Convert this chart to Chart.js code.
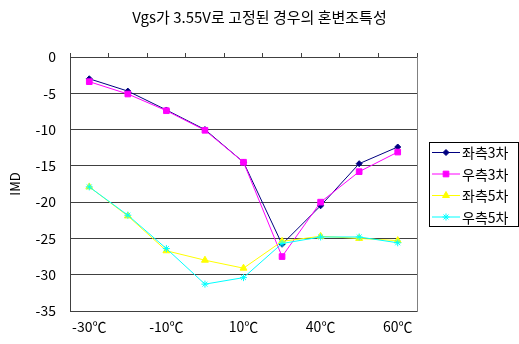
<!DOCTYPE html>
<html>
<head>
<meta charset="utf-8">
<script src="https://cdn.jsdelivr.net/npm/chart.js@4/dist/chart.umd.min.js"></script>
<style>
  html, body { margin: 0; padding: 0; background: #fff; }
  #wrap { width: 519px; height: 344px; }
</style>
</head>
<body>
<div id="wrap"><canvas id="c" width="519" height="344"></canvas></div>
<script>
// 온도별 혼변조특성 (Vgs = 3.55V)
const temperatures = ['-30℃', '-20℃', '-10℃', '0℃', '10℃', '25℃', '40℃', '50℃', '60℃'];
const seriesNames = ['좌측3차', '우측3차', '좌측5차', '우측5차'];
const left3rd  = [-3.0, -4.7, -7.3, -10.0, -14.5, -25.8, -20.5, -14.7, -12.4];
const right3rd = [-3.4, -5.1, -7.4, -10.1, -14.5, -27.5, -20.0, -15.8, -13.1];
const left5th  = [-17.9, -21.9, -26.7, -28.0, -29.1, -25.4, -24.7, -25.0, -25.3];
const right5th = [-17.9, -21.8, -26.4, -31.3, -30.4, -25.7, -24.8, -24.8, -25.6];
const yTicks = { min: -35, max: 0, step: 5 };

const FONT = "'Noto Sans CJK KR', 'Liberation Sans', sans-serif";

const styles = [
  { color: '#000080', point: 'rectRot', radius: 3 },
  { color: '#FF00FF', point: 'rect', radius: 4 },
  { color: '#FFFF00', point: 'triangle', radius: 4 },
  { color: '#00FFFF', point: 'star', radius: 3.5 }
];
const values = [left3rd, right3rd, left5th, right5th];

const datasets = values.map((v, i) => ({
  label: seriesNames[i],
  data: v,
  borderColor: styles[i].color,
  backgroundColor: styles[i].color,
  pointBorderColor: styles[i].color,
  pointBackgroundColor: styles[i].color,
  pointStyle: styles[i].point,
  pointRadius: styles[i].radius,
  pointBorderWidth: 1,
  borderWidth: 1,
  tension: 0,
  order: values.length - i
}));

// 범례: 테두리 박스 안에 선+마커+이름
const boxLegend = {
  id: 'boxLegend',
  afterDraw(chart) {
    const ctx = chart.ctx;
    const x0 = 429, y0 = 142, w = 90, h = 85;
    ctx.save();
    ctx.fillStyle = '#fff';
    ctx.fillRect(x0, y0, w, h);
    ctx.strokeStyle = '#000';
    ctx.lineWidth = 1;
    ctx.strokeRect(x0 + 0.5, y0 + 0.5, w - 1, h - 1);
    chart.data.datasets.forEach((ds, i) => {
      const y = y0 + 10 + i * 21.5;
      ctx.strokeStyle = ds.borderColor;
      ctx.lineWidth = 1;
      ctx.beginPath();
      ctx.moveTo(x0 + 3, y + 0.5);
      ctx.lineTo(x0 + 31, y + 0.5);
      ctx.stroke();
      ctx.fillStyle = ds.borderColor;
      ctx.strokeStyle = ds.borderColor;
      Chart.helpers.drawPoint(ctx, {
        pointStyle: ds.pointStyle,
        radius: ds.pointRadius,
        rotation: 0,
        borderWidth: 1
      }, x0 + 17, y + 0.5);
      ctx.fillStyle = '#000';
      ctx.font = '14px ' + FONT;
      ctx.textBaseline = 'middle';
      ctx.textAlign = 'left';
      ctx.fillText(ds.label, x0 + 33, y + 1);
    });
    ctx.restore();
  }
};

new Chart(document.getElementById('c'), {
  type: 'line',
  data: { labels: temperatures, datasets },
  options: {
    responsive: false,
    animation: false,
    layout: { padding: 0 },
    plugins: {
      legend: { display: false },
      tooltip: { enabled: false },
      title: {
        display: true,
        text: 'Vgs가 3.55V로 고정된 경우의 혼변조특성',
        color: '#000',
        font: { family: FONT, size: 15, weight: 'normal', lineHeight: 1.2 },
        padding: { top: 8, bottom: 27 }
      }
    },
    scales: {
      x: {
        position: 'bottom',
        offset: true,
        grid: { display: false, drawTicks: false },
        border: { display: true, color: '#404040', width: 1 },
        ticks: {
          autoSkip: false,
          maxRotation: 0,
          padding: 7,
          color: '#000',
          font: { family: FONT, size: 14 },
          callback: function (val, idx) { return idx % 2 === 0 ? this.getLabelForValue(val) : ''; }
        },
        afterFit: s => { s.height = 33; }
      },
      xTop: {
        position: 'top',
        type: 'category',
        labels: temperatures,
        offset: true,
        grid: { display: true, drawOnChartArea: false, drawTicks: true, tickLength: 4, color: '#404040', offset: true },
        border: { display: true, color: '#404040', width: 1 },
        ticks: { display: false }
      },
      y: {
        position: 'left',
        min: yTicks.min,
        max: yTicks.max,
        grid: { color: '#404040', lineWidth: 1, drawTicks: false },
        border: { display: true, color: '#404040', width: 1 },
        ticks: {
          stepSize: yTicks.step,
          padding: 14,
          color: '#000',
          font: { family: FONT, size: 14 }
        },
        title: {
          display: true,
          text: 'IMD',
          color: '#000',
          font: { family: FONT, size: 13 },
          padding: { top: 7, bottom: 0 }
        },
        afterFit: s => { s.width = 70; }
      },
      yRight: {
        position: 'right',
        min: yTicks.min,
        max: yTicks.max,
        grid: { display: false, drawTicks: false },
        border: { display: true, color: '#808080', width: 1 },
        ticks: { display: false },
        afterFit: s => { s.width = 102; }
      }
    }
  },
  plugins: [boxLegend]
});
</script>
</body>
</html>
